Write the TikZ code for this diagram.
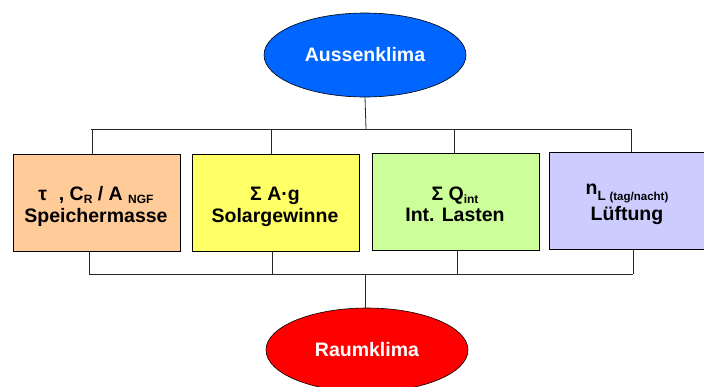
\documentclass[tikz,border=0pt]{standalone}
\usepackage{fontspec}
\setmainfont{Liberation Sans}
\usetikzlibrary{shapes.geometric}
\definecolor{cBlue}{HTML}{0066FF}
\definecolor{cRed}{HTML}{FF0000}
\definecolor{cOrange}{HTML}{FFCC99}
\definecolor{cYellow}{HTML}{FFFF66}
\definecolor{cGreen}{HTML}{CCFF99}
\definecolor{cLila}{HTML}{CCCCFF}
\newcommand\mysub[1]{\raisebox{-3.5pt}{\fontsize{12}{12}\selectfont #1}}
\tikzset{
  conn/.style={draw=black!85, line width=0.8pt},
  klima/.style={ellipse, draw=black, line width=0.6pt, minimum width=202pt, minimum height=84pt, inner sep=0pt,
     text=white, font=\fontsize{19.5}{21}\selectfont\bfseries},
  box/.style={draw=black, line width=0.8pt, anchor=north west, inner sep=0pt},
  lbl/.style={anchor=base, inner sep=0pt, font=\fontsize{19.5}{21}\selectfont\bfseries}
}
\begin{document}
\begin{tikzpicture}[x=1pt,y=-1pt]
\useasboundingbox (0,0) rectangle (704,386);
\fill[white] (0,0) rectangle (704,386);
\begin{scope}
\clip (0,0) rectangle (704,386);
% ellipses
\node[klima, fill=cBlue] (aussen) at (365,55) {Aussenklima};
\node[klima, fill=cRed] (raum) at (367,350) {Raumklima};
% boxes
\node[box, fill=cOrange, minimum width=167pt, minimum height=97pt] (b1) at (13,154) {};
\node[box, fill=cYellow, minimum width=167pt, minimum height=97pt] (b2) at (192,154) {};
\node[box, fill=cGreen, minimum width=167pt, minimum height=97pt] (b3) at (372,153) {};
\node[box, fill=cLila, minimum width=155pt, minimum height=97pt] (b4) at (549,152) {};
% texts
\node[lbl] (t1a) at (96,200) {τ\hspace{0.6em}, C\mysub{R} / A \mysub{NGF}};
\node[lbl] (t1b) at (96,222) {Speichermasse};
\node[lbl] (t2a) at (275,200) {Σ A·g};
\node[lbl] (t2b) at (275,222) {Solargewinne};
\node[lbl] (t3a) at (455,200) {Σ Q\mysub{int}};
\node[lbl] (t3b) at (455,221) {Int. Lasten};
\node[lbl] (t4a) at (627,194) {n\raisebox{-6pt}{\fontsize{13.5}{13.5}\selectfont L \fontsize{11.5}{11.5}\selectfont (tag/nacht)}};
\node[lbl] (t4b) at (627,220) {Lüftung};
% top bus
\coordinate (top) at (366,129);
\coordinate (tl) at (91,129);
\coordinate (tr) at (631,129);
\coordinate (d1) at (92,129);
\coordinate (d2) at (271,129);
\coordinate (d3) at (454,129);
\coordinate (d4) at (631,129);
\draw[conn] (aussen.south) -- (top);
\draw[conn] (tl) -- (tr);
\draw[conn] (d1) -- (d1 |- b1.north);
\draw[conn] (d2) -- (d2 |- b2.north);
\draw[conn] (d3) -- (d3 |- b3.north);
\draw[conn] (d4) -- (d4 |- b4.north);
% bottom bus
\coordinate (bot) at (365,274);
\coordinate (bl) at (89,274);
\coordinate (br) at (633,274);
\coordinate (u1) at (89,274);
\coordinate (u2) at (272,274);
\coordinate (u3) at (457,274);
\coordinate (u4) at (633,274);
\draw[conn] (u1 |- b1.south) -- (u1);
\draw[conn] (u2 |- b2.south) -- (u2);
\draw[conn] (u3 |- b3.south) -- (u3);
\draw[conn] (u4 |- b4.south) -- (u4);
\draw[conn] (bl) -- (br);
\draw[conn] (bot) -- (bot |- raum.north);
\end{scope}
\end{tikzpicture}
\end{document}
